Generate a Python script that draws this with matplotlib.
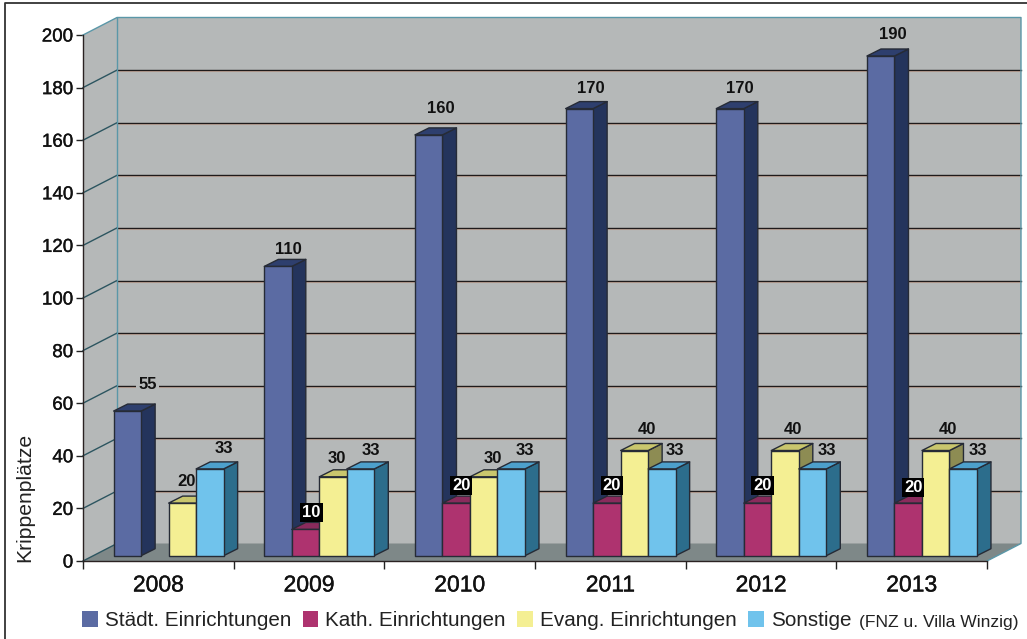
import matplotlib
matplotlib.use("Agg")
import matplotlib.pyplot as plt
import matplotlib.patheffects as pe
from matplotlib.patches import Polygon, Rectangle
from matplotlib.lines import Line2D

plt.rcParams['font.family'] = ['Liberation Sans', 'DejaVu Sans']

years = ['2008', '2009', '2010', '2011', '2012', '2013']
staedt = [55, 110, 160, 170, 170, 190]
kath = [0, 10, 20, 20, 20, 20]
evang = [20, 30, 30, 40, 40, 40]
sonstige = [33, 33, 33, 33, 33, 33]
series_names = ['Städt. Einrichtungen', 'Kath. Einrichtungen', 'Evang. Einrichtungen', 'Sonstige']
y_ticks = list(range(0, 201, 20))

series = [staedt, kath, evang, sonstige]
front = ['#5b6ba3', '#ae336f', '#f4ef93', '#70c3ec']
side = ['#24345c', '#6e2148', '#8d8c53', '#2c6d8c']
top = ['#2e3f6e', '#8a2b5c', '#c9c66d', '#4da0cc']
edge = '#262b36'

# label offsets in pixels from the top of each bar (centre of the front face)
off_s = [(20, 27), (10, 17), (12, 26), (11, 20), (10, 20), (12, 22)]
off_k = [None, (6, 17), (5, 18), (5, 18), (5, 18), (5, 16)]
off_e = [(4, 22), (4, 18), (9, 18), (13, 21), (8, 21), (12, 21)]
off_o = [(14, 20), (10, 18), (14, 18), (13, 18), (14, 18), (15, 18)]
offs = [off_s, off_k, off_e, off_o]

W, H = 1027, 639
fig = plt.figure(figsize=(W / 100, H / 100), dpi=100, facecolor='white')
L, R, T, B = 83, 987, 35, 561
ax = fig.add_axes([L / W, 1 - B / H, (R - L) / W, (B - T) / H])
ax.set_xlim(0, len(years))
ax.set_ylim(0, 200)
ax.patch.set_visible(False)

PX = len(years) / (R - L)   # data x per pixel
PY = 200 / (B - T)          # data y per pixel
DX, DY = 34 * PX, 17.5 * PY  # depth of the box
wall = '#b5b8b8'
floor = '#7e8888'
grid_c = '#1f1a1a'
teal = '#5a97a8'
x_max = len(years)
heavy = [pe.withStroke(linewidth=0.25, foreground='#111111')]


def poly(pts, fc, ec='none', lw=0, z=1):
    ax.add_patch(Polygon(pts, closed=True, facecolor=fc, edgecolor=ec, linewidth=lw,
                         zorder=z, clip_on=False, joinstyle='round'))


poly([(0, 0), (DX, DY), (DX, 200 + DY), (0, 200)], wall)
poly([(DX, DY), (x_max + DX, DY), (x_max + DX, 200 + DY), (DX, 200 + DY)], wall)
poly([(0, 0), (x_max, 0), (x_max + DX, DY), (DX, DY)], floor, z=1.5)

for v in y_ticks[1:-1]:
    ax.plot([DX, x_max + DX], [v + DY - 0.4, v + DY - 0.4], color='#e8a98c', lw=0.8,
            zorder=1.6, clip_on=False, alpha=0.45)
    ax.plot([DX, x_max + DX], [v + DY, v + DY], color=grid_c, lw=1.0, zorder=1.7, clip_on=False)
    ax.plot([0, DX], [v, v + DY], color='#2c5560', lw=1.0, zorder=1.7, clip_on=False)
ax.plot([0, DX, x_max + DX, x_max + DX, x_max], [200, 200 + DY, 200 + DY, DY, 0],
        color=teal, lw=1.0, zorder=1.7, clip_on=False)
ax.plot([DX, DX], [DY, 200 + DY], color=teal, lw=1.0, zorder=1.7, clip_on=False)
ax.plot([0, DX], [0, DY], color='#2c5560', lw=1.0, zorder=1.7, clip_on=False)

# bars
bw = 27.5 * PX
fx, fy = 10.3 * PX, 5.3 * PY      # bar plane offset from the front edge
sx, sy = 14 * PX, 7 * PY          # bar depth
z = 3
for i in range(len(years)):
    for j, vals in enumerate(series):
        v = vals[i]
        if not v:
            continue
        x0 = i + 0.5 + (j - 2) * bw + fx
        x1 = x0 + bw
        y0 = fy
        y1 = fy + v
        poly([(x1, y0), (x1 + sx, y0 + sy), (x1 + sx, y1 + sy), (x1, y1)], side[j], edge, 1.0, z)
        poly([(x0, y1), (x1, y1), (x1 + sx, y1 + sy), (x0 + sx, y1 + sy)], top[j], edge, 1.0, z)
        poly([(x0, y0), (x1, y0), (x1, y1), (x0, y1)], front[j], edge, 1.0, z)
        z += 0.01

# value labels
for i in range(len(years)):
    for j, vals in enumerate(series):
        v = vals[i]
        if not v:
            continue
        xc = i + 0.5 + (j - 1.5) * bw + fx
        dx, dy = offs[j][i]
        kw = {}
        color = '#111111'
        if j == 1:
            color = 'white'
            kw['bbox'] = dict(facecolor='black', edgecolor='none', pad=1.5)
        elif i == 0 and j == 0:
            kw['bbox'] = dict(facecolor=wall, edgecolor='none', pad=1.5)
        ax.annotate(str(v), (xc, fy + v), xytext=(dx, dy), textcoords='offset pixels',
                    ha='center', va='center', fontsize=12, fontweight='bold', color=color,
                    zorder=10, annotation_clip=False, **kw)

# axes
for s in ['top', 'right']:
    ax.spines[s].set_visible(False)
for s in ['left', 'bottom']:
    ax.spines[s].set_color('#2a2222')
    ax.spines[s].set_linewidth(1.0)
    ax.spines[s].set_zorder(2)
ax.set_yticks(y_ticks)
ax.tick_params(axis='y', length=5, width=1.0, color='#222222', labelsize=13.5, pad=2,
               labelcolor='#111111')
for t in ax.get_yticklabels():
    t.set_path_effects(heavy)
ax.set_xticks(range(len(years) + 1))
ax.set_xticklabels([''] * (len(years) + 1))
ax.tick_params(axis='x', length=5.5, width=1.0, color='#222222')
for i, y in enumerate(years):
    ax.annotate(y, (i + 0.5, 0), xytext=(0, -24), textcoords='offset pixels', ha='center',
                va='center', fontsize=16.5, color='#111111', annotation_clip=False,
                path_effects=heavy)
fig.text(25 / W, 1 - 497 / H, 'Krippenplätze', rotation=90, ha='center', va='center',
         fontsize=15.2, color='#222222')

# legend
handles = [Rectangle((0, 0), 1, 1, facecolor=c, edgecolor='none') for c in front]
leg = fig.legend(handles, series_names, loc='lower left',
                 bbox_to_anchor=(82 / W, 1 - 630 / H), bbox_transform=fig.transFigure, ncols=4,
                 frameon=False, fontsize=14.9, borderpad=0, borderaxespad=0,
                 handlelength=0.77, handleheight=0.77, handletextpad=0.32,
                 columnspacing=0.56, labelcolor='#222222')
fig.text(859 / W, 1 - 622 / H, '(FNZ u. Villa Winzig)', ha='left', va='center',
         fontsize=12.6, color='#222222')

# outer frame
fig.add_artist(Line2D([5 / W, 5 / W, 1], [0, 1 - 2.5 / H, 1 - 2.5 / H],
                      color='#333333', lw=1.3, transform=fig.transFigure))

fig.savefig('out.png', dpi=100, facecolor='white')
